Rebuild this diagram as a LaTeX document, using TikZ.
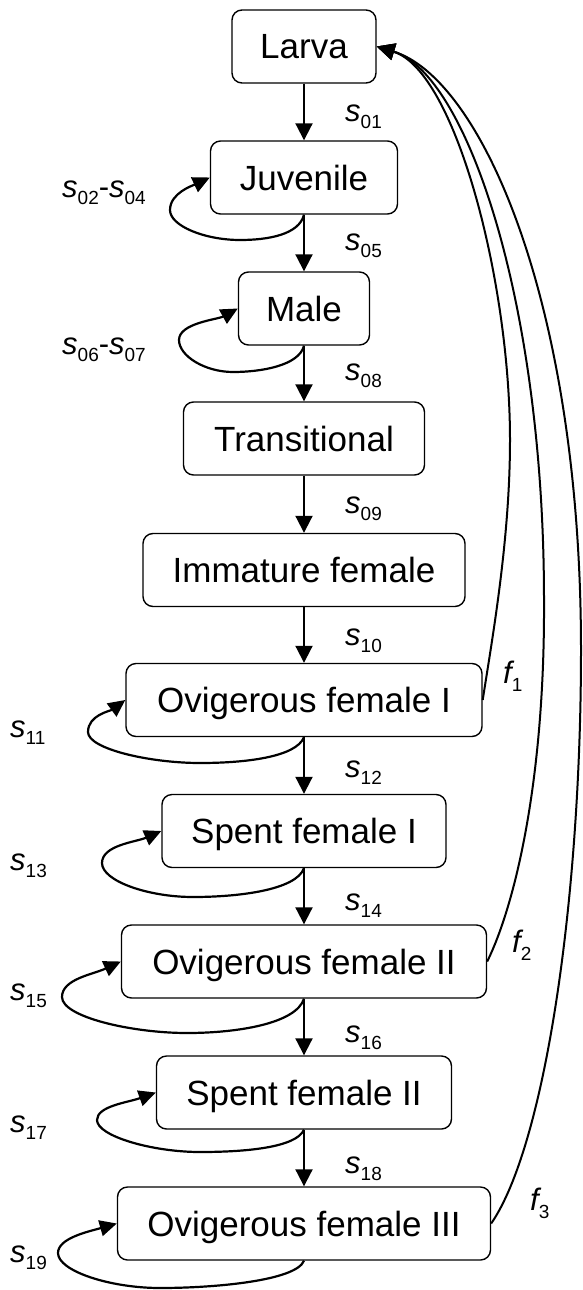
\documentclass[tikz,border=0pt]{standalone}
\usepackage{fontspec}
\setmainfont{Liberation Sans}
\usetikzlibrary{arrows.meta,calc}
\newcommand\lab[2]{{\itshape #1}\raisebox{-7pt}{\fontsize{19}{19}\selectfont #2}}
\newcommand\flab[2]{{\itshape #1}\raisebox{-8pt}{\fontsize{19}{19}\selectfont #2}}
\begin{document}
\begin{tikzpicture}[x=1pt,y=1pt,
 stage/.style={draw, rounded corners=10pt, line width=1.4pt, minimum height=73pt, inner sep=0pt,
   font=\fontsize{35}{42}\selectfont, text height=25pt, text depth=0pt},
 arr/.style={line width=2pt, -{Triangle[length=17pt,width=17pt]}},
 loopline/.style={line width=2.2pt, -{Triangle[length=17pt,width=16pt]}},
 back/.style={line width=2pt, -{Triangle[length=18pt,width=17pt]}},
 lbl/.style={inner sep=0pt, anchor=base west, font=\fontsize{31}{36}\selectfont}]
\fill[white] (0,0) rectangle (583,-1290);
\useasboundingbox (0,0) rectangle (583,-1290);

% stages
\node[stage, minimum width=144pt] (Larva) at (304,-46.5)  {Larva};
\node[stage, minimum width=187pt] (Juv)   at (304,-177.5) {Juvenile};
\node[stage, minimum width=131pt] (Male)  at (304,-308.5) {Male};
\node[stage, minimum width=241pt] (Trans) at (304,-438.5) {Transitional};
\node[stage, minimum width=322pt] (Imm)   at (304,-570)   {Immature female};
\node[stage, minimum width=356pt] (OvI)   at (304,-700)   {Ovigerous female I};
\node[stage, minimum width=284pt] (SpI)   at (304,-831)   {Spent female I};
\node[stage, minimum width=365pt] (OvII)  at (304,-961.5) {Ovigerous female II};
\node[stage, minimum width=295pt] (SpII)  at (304,-1092.5){Spent female II};
\node[stage, minimum width=373pt] (OvIII) at (304,-1223.5){Ovigerous female III};

% straight transitions
\draw[arr] (Larva) -- (Juv);
\draw[arr] (Juv) -- (Male);
\draw[arr] (Male) -- (Trans);
\draw[arr] (Trans) -- (Imm);
\draw[arr] (Imm) -- (OvI);
\draw[arr] (OvI) -- (SpI);
\draw[arr] (SpI) -- (OvII);
\draw[arr] (OvII) -- (SpII);
\draw[arr] (SpII) -- (OvIII);

% transition labels
\node[lbl] (l01) at (345,-121)  {\lab{s}{01}};
\node[lbl] (l05) at (345,-250)  {\lab{s}{05}};
\node[lbl] (l08) at (345,-380)  {\lab{s}{08}};
\node[lbl] (l09) at (345,-513)  {\lab{s}{09}};
\node[lbl] (l10) at (345,-645)  {\lab{s}{10}};
\node[lbl] (l12) at (345,-777)  {\lab{s}{12}};
\node[lbl] (l14) at (345,-910)  {\lab{s}{14}};
\node[lbl] (l16) at (345,-1042) {\lab{s}{16}};
\node[lbl] (l18) at (345,-1173) {\lab{s}{18}};

% self loops
\draw[loopline] (Juv.south) .. controls +(-5,-20) and +(28,0) .. (240,-240)
  .. controls +(-35,0) and +(0,-16) .. (170,-210)
  .. controls +(0,17) and +(-17,-8) .. (Juv.west);
\draw[loopline] (Male.south) .. controls +(-5,-20) and +(28,0) .. (233,-372)
  .. controls +(-28,0) and +(0,-16) .. (179,-340)
  .. controls +(0,17) and +(-20,-11) .. (Male.west);
\draw[loopline] (OvI.south) .. controls +(-8,-20) and +(45,0) .. (200,-763)
  .. controls +(-50,0) and +(0,-17) .. (88,-732)
  .. controls +(0,17) and +(-15,-11) .. (OvI.west);
\draw[loopline] (SpI.south) .. controls +(-8,-22) and +(45,0) .. (193,-897)
  .. controls +(-45,0) and +(0,-18) .. (102,-863)
  .. controls +(0,18) and +(-25,-11) .. (SpI.west);
\draw[loopline] (OvII.south) .. controls +(-8,-25) and +(50,0) .. (187,-1033)
  .. controls +(-55,0) and +(0,-20) .. (62,-997)
  .. controls +(0,18) and +(-28,-13) .. (OvII.west);
\draw[loopline] (SpII.south) .. controls +(-8,-18) and +(45,0) .. (200,-1152)
  .. controls +(-48,0) and +(0,-16) .. (97,-1120)
  .. controls +(0,14) and +(-28,-10) .. (SpII.west);
\draw[loopline] (OvIII.south) .. controls +(-8,-20) and +(55,0) .. (160,-1288)
  .. controls +(-50,0) and +(0,-18) .. (58,-1253)
  .. controls +(0,15) and +(-28,-8) .. (OvIII.west);

% loop labels
\node[lbl] (l0204) at (62,-197)  {\lab{s}{02}-\lab{s}{04}};
\node[lbl] (l0607) at (62,-354)  {\lab{s}{06}-\lab{s}{07}};
\node[lbl] (l11)   at (10,-737)  {\lab{s}{11}};
\node[lbl] (l13)   at (10,-870)  {\lab{s}{13}};
\node[lbl] (l15)   at (10,-1000) {\lab{s}{15}};
\node[lbl] (l17)   at (10,-1132) {\lab{s}{17}};
\node[lbl] (l19)   at (10,-1262) {\lab{s}{19}};

% fecundity curves back to Larva
\draw[back] (OvI.east) .. controls (492,-640) and (510,-540) .. (510,-440)
  .. controls (510,-280) and (455,-70.7) .. (Larva.east);
\draw[back] (OvII.east) .. controls (515,-905) and (545,-780) .. (544,-600)
  .. controls (544,-300) and (466,-73.5) .. (Larva.east);
\draw[back] (OvIII.east) .. controls (545,-1145) and (581,-900) .. (581,-650)
  .. controls (581,-300) and (480,-77.7) .. (Larva.east);

\node[lbl] (f1) at (503,-683)  {\flab{f}{1}};
\node[lbl] (f2) at (512,-952)  {\flab{f}{2}};
\node[lbl] (f3) at (530,-1210) {\flab{f}{3}};
\end{tikzpicture}
\end{document}
